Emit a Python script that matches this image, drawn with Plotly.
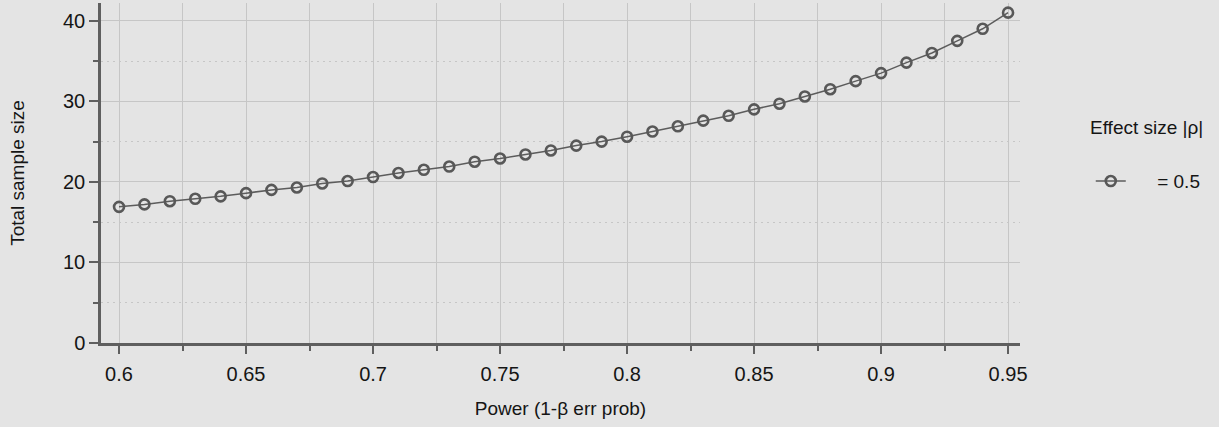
import plotly.graph_objects as go

# Data
power = [0.60, 0.61, 0.62, 0.63, 0.64, 0.65, 0.66, 0.67, 0.68, 0.69,
         0.70, 0.71, 0.72, 0.73, 0.74, 0.75, 0.76, 0.77, 0.78, 0.79,
         0.80, 0.81, 0.82, 0.83, 0.84, 0.85, 0.86, 0.87, 0.88, 0.89,
         0.90, 0.91, 0.92, 0.93, 0.94, 0.95]
sample_size = [16.9, 17.2, 17.6, 17.9, 18.2, 18.6, 19.0, 19.3, 19.8, 20.1,
               20.6, 21.1, 21.5, 21.9, 22.5, 22.9, 23.4, 23.9, 24.5, 25.0,
               25.6, 26.25, 26.9, 27.6, 28.2, 29.0, 29.7, 30.6, 31.5, 32.5,
               33.5, 34.8, 36.0, 37.5, 39.0, 41.0]
series_name = "\u00a0\u00a0\u00a0\u00a0\u00a0= 0.5"
legend_title = "Effect size |ρ|"

x_tickvals = [0.6, 0.65, 0.7, 0.75, 0.8, 0.85, 0.9, 0.95]
x_ticktext = ["0.6", "0.65", "0.7", "0.75", "0.8", "0.85", "0.9", "0.95"]
y_tickvals = [0, 10, 20, 30, 40]
y_ticktext = ["0", "10", "20", "30", "40"]

BG = "#e4e4e4"
AX = "#5f5f5f"
GRID = "#c6c6c6"
FONT = "Liberation Sans, Arial, sans-serif"
TXT = "#151515"

fig = go.Figure()
fig.add_trace(go.Scatter(
    x=power, y=sample_size, mode="lines+markers", name=series_name,
    line=dict(color="#5c5c5c", width=1.5),
    marker=dict(symbol="circle-open", size=10, color="#585858",
                line=dict(width=2.6, color="#585858")),
))

fig.update_layout(
    width=1219, height=427,
    margin=dict(l=101, r=199, t=3, b=84),
    paper_bgcolor=BG, plot_bgcolor=BG,
    font=dict(family=FONT, size=20, color=TXT),
    showlegend=True,
    legend=dict(
        x=1.077, xanchor="left", y=0.476, yanchor="middle",
        bgcolor="rgba(0,0,0,0)", font=dict(size=19, color=TXT),
        tracegroupgap=0,
    ),
    annotations=[dict(
        text=legend_title, xref="paper", yref="paper",
        x=1.074, y=0.635, xanchor="left", yanchor="middle",
        showarrow=False, font=dict(size=19, color=TXT),
    )],
)

fig.update_xaxes(
    range=[0.5929, 0.9547],
    tickmode="array", tickvals=x_tickvals, ticktext=x_ticktext,
    ticks="outside", ticklen=8, tickwidth=2, tickcolor=AX,
    showline=True, linecolor=AX, linewidth=2.5,
    showgrid=True, gridcolor=GRID, gridwidth=1, griddash="2px,4px",
    zeroline=False, ticklabelstandoff=3,
    minor=dict(dtick=0.025, tick0=0.6, ticks="outside", ticklen=5,
               tickwidth=2, tickcolor=AX, showgrid=True, gridcolor=GRID,
               gridwidth=1, griddash="solid"),
    tickfont=dict(size=20, color=TXT),
    title=dict(text="Power (1-β err prob)", font=dict(size=19, color=TXT), standoff=18),
)
fig.update_yaxes(
    range=[0, 42.2],
    tickmode="array", tickvals=y_tickvals, ticktext=y_ticktext,
    ticks="outside", ticklen=9, tickwidth=2, tickcolor=AX,
    showline=True, linecolor=AX, linewidth=2.5,
    showgrid=True, gridcolor=GRID, gridwidth=1, griddash="solid",
    zeroline=False,
    minor=dict(dtick=5, tick0=0, ticks="outside", ticklen=5,
               tickwidth=2, tickcolor=AX, showgrid=True, gridcolor=GRID,
               gridwidth=1, griddash="2px,4px"),
    tickfont=dict(size=20, color=TXT),
    title=dict(text="Total sample size", font=dict(size=19, color=TXT), standoff=34),
)

fig.write_html(
    "out.html",
    config={"displayModeBar": False},
    post_script="document.body.style.margin='0';document.body.style.background='#e4e4e4';",
)
